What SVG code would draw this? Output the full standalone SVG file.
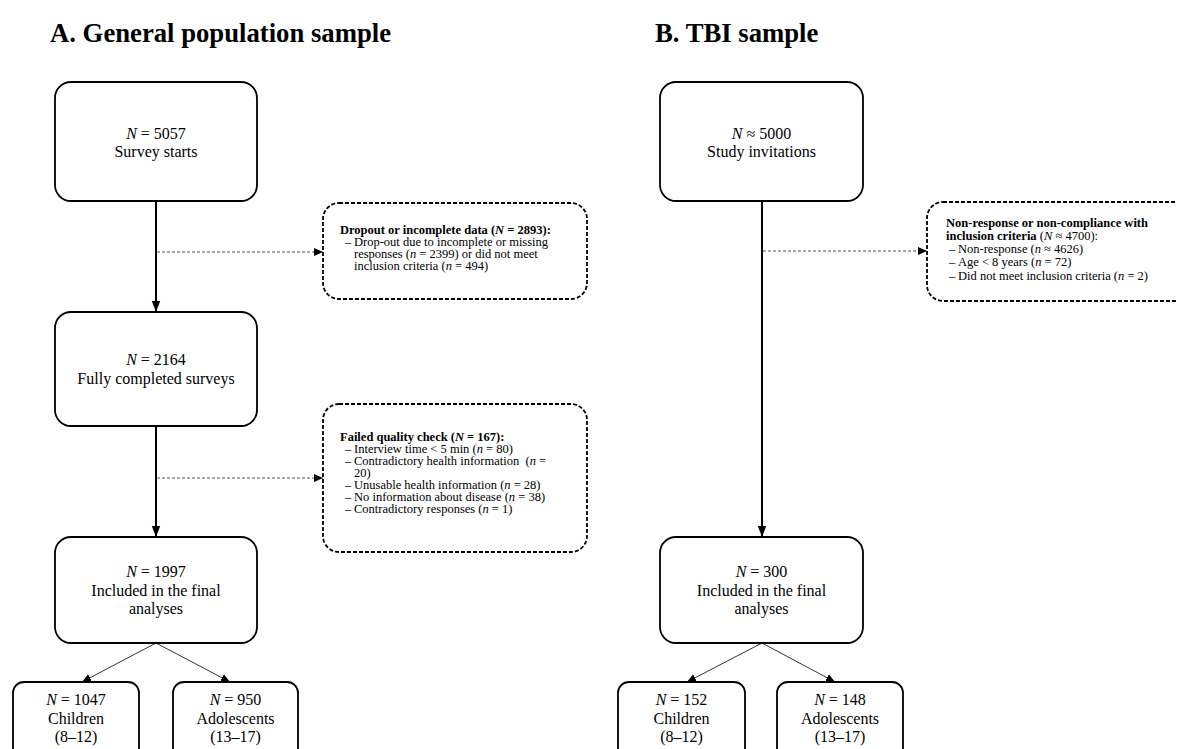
<svg xmlns="http://www.w3.org/2000/svg" width="1177" height="749" viewBox="0 0 1177 749">
<style>
text{font-family:"Liberation Serif","Times New Roman",serif;fill:#000}
.title{font-size:26.7px;font-weight:bold}
.main{font-size:16px;text-anchor:middle}
.small{font-size:12.5px}
.b{font-weight:bold}
.i{font-style:italic}
.box{fill:#fff;stroke:#000;stroke-width:1.8}
.dbox{fill:#fff;stroke:#000;stroke-width:1.8;stroke-dasharray:4 2}
.thick{stroke:#000;stroke-width:2;fill:none}
.thin{stroke:#000;stroke-width:0.8;fill:none}
.dash{stroke:#555;stroke-width:1;stroke-dasharray:3 2;fill:none}
</style>
<defs>
<marker id="ah" markerUnits="userSpaceOnUse" markerWidth="12" markerHeight="10" refX="11" refY="5" orient="auto"><path d="M0,0.8 L11,5 L0,9.2 z" fill="#000"/></marker>
<marker id="ahs" markerUnits="userSpaceOnUse" markerWidth="10" markerHeight="10" refX="9" refY="5" orient="auto"><path d="M0,1 L9,5 L0,9 z" fill="#000"/></marker>
</defs>
<text class="title" x="50" y="42">A. General population sample</text>
<text class="title" x="655" y="42">B. TBI sample</text>
<g id="connectors">
<line class="thick" x1="156" y1="201" x2="156" y2="312" marker-end="url(#ah)"/>
<line class="thick" x1="156" y1="426" x2="156" y2="537" marker-end="url(#ah)"/>
<line class="dash" x1="157" y1="252" x2="323" y2="252" marker-end="url(#ahs)"/>
<line class="dash" x1="157" y1="478" x2="323" y2="478" marker-end="url(#ahs)"/>
<line class="thin" x1="156" y1="643" x2="82" y2="682" marker-end="url(#ahs)"/>
<line class="thin" x1="156" y1="643" x2="230" y2="682" marker-end="url(#ahs)"/>
<line class="thick" x1="762" y1="201" x2="762" y2="537" marker-end="url(#ah)"/>
<line class="dash" x1="763" y1="251" x2="927" y2="251" marker-end="url(#ahs)"/>
<line class="thin" x1="762" y1="643" x2="687" y2="682" marker-end="url(#ahs)"/>
<line class="thin" x1="762" y1="643" x2="835" y2="682" marker-end="url(#ahs)"/>
</g>
<g id="a-start">
<rect class="box" x="55" y="82" width="202" height="119" rx="16"/>
<text class="main" x="156" y="138.5"><tspan class="i">N</tspan> = 5057</text>
<text class="main" x="156" y="157">Survey starts</text>
</g>
<g id="a-dropout">
<rect class="dbox" x="323" y="203" width="264" height="96" rx="16"/>
<text class="small" x="340" y="234"><tspan class="b">Dropout or incomplete data (</tspan><tspan class="b i">N</tspan><tspan class="b"> = 2893):</tspan></text>
<text class="small" x="345" y="246">–</text>
<text class="small" x="354" y="246">Drop-out due to incomplete or missing</text>
<text class="small" x="354" y="258">responses (<tspan class="i">n</tspan> = 2399) or did not meet</text>
<text class="small" x="354" y="270">inclusion criteria (<tspan class="i">n</tspan> = 494)</text>
</g>
<g id="a-completed">
<rect class="box" x="55" y="312" width="202" height="114" rx="16"/>
<text class="main" x="156" y="365"><tspan class="i">N</tspan> = 2164</text>
<text class="main" x="156" y="383.5">Fully completed surveys</text>
</g>
<g id="a-failed">
<rect class="dbox" x="323" y="404" width="264" height="148" rx="16"/>
<text class="small" x="340" y="441"><tspan class="b">Failed quality check (</tspan><tspan class="b i">N</tspan><tspan class="b"> = 167):</tspan></text>
<text class="small" x="345" y="453">–</text>
<text class="small" x="354" y="453">Interview time &lt; 5 min (<tspan class="i">n</tspan> = 80)</text>
<text class="small" x="345" y="465">–</text>
<text class="small" x="354" y="465">Contradictory health information &#160;(<tspan class="i">n</tspan> =</text>
<text class="small" x="354" y="477">20)</text>
<text class="small" x="345" y="489">–</text>
<text class="small" x="354" y="489">Unusable health information (<tspan class="i">n</tspan> = 28)</text>
<text class="small" x="345" y="501">–</text>
<text class="small" x="354" y="501">No information about disease (<tspan class="i">n</tspan> = 38)</text>
<text class="small" x="345" y="513">–</text>
<text class="small" x="354" y="513">Contradictory responses (<tspan class="i">n</tspan> = 1)</text>
</g>
<g id="a-final">
<rect class="box" x="55" y="537" width="202" height="106" rx="16"/>
<text class="main" x="156" y="577"><tspan class="i">N</tspan> = 1997</text>
<text class="main" x="156" y="595.5">Included in the final</text>
<text class="main" x="156" y="614">analyses</text>
</g>
<g id="a-children">
<rect class="box" x="13" y="682" width="126" height="90" rx="11"/>
<text class="main" x="76" y="705"><tspan class="i">N</tspan> = 1047</text>
<text class="main" x="76" y="723.5">Children</text>
<text class="main" x="76" y="742">(8–12)</text>
</g>
<g id="a-adolescents">
<rect class="box" x="173" y="682" width="125" height="90" rx="11"/>
<text class="main" x="235.5" y="705"><tspan class="i">N</tspan> = 950</text>
<text class="main" x="235.5" y="723.5">Adolescents</text>
<text class="main" x="235.5" y="742">(13–17)</text>
</g>
<g id="b-start">
<rect class="box" x="660" y="82" width="203" height="119" rx="16"/>
<text class="main" x="761.5" y="138.5"><tspan class="i">N</tspan> ≈ 5000</text>
<text class="main" x="761.5" y="157">Study invitations</text>
</g>
<g id="b-excluded">
<rect class="dbox" x="927" y="202" width="270" height="99" rx="16"/>
<text class="small" x="946" y="226.5"><tspan class="b">Non-response or non-compliance with</tspan></text>
<text class="small" x="946" y="239.8"><tspan class="b">inclusion criteria</tspan> (<tspan class="i">N</tspan> ≈ 4700):</text>
<text class="small" x="949" y="253.1">–</text>
<text class="small" x="958" y="253.1">Non-response (<tspan class="i">n</tspan> ≈ 4626)</text>
<text class="small" x="949" y="266.4">–</text>
<text class="small" x="958" y="266.4">Age &lt; 8 years (<tspan class="i">n</tspan> = 72)</text>
<text class="small" x="949" y="279.7">–</text>
<text class="small" x="958" y="279.7">Did not meet inclusion criteria (<tspan class="i">n</tspan> = 2)</text>
</g>
<g id="b-final">
<rect class="box" x="660" y="537" width="203" height="106" rx="16"/>
<text class="main" x="761.5" y="577"><tspan class="i">N</tspan> = 300</text>
<text class="main" x="761.5" y="595.5">Included in the final</text>
<text class="main" x="761.5" y="614">analyses</text>
</g>
<g id="b-children">
<rect class="box" x="618" y="682" width="127" height="90" rx="11"/>
<text class="main" x="681.5" y="705"><tspan class="i">N</tspan> = 152</text>
<text class="main" x="681.5" y="723.5">Children</text>
<text class="main" x="681.5" y="742">(8–12)</text>
</g>
<g id="b-adolescents">
<rect class="box" x="777" y="682" width="126" height="90" rx="11"/>
<text class="main" x="840" y="705"><tspan class="i">N</tspan> = 148</text>
<text class="main" x="840" y="723.5">Adolescents</text>
<text class="main" x="840" y="742">(13–17)</text>
</g>
</svg>
